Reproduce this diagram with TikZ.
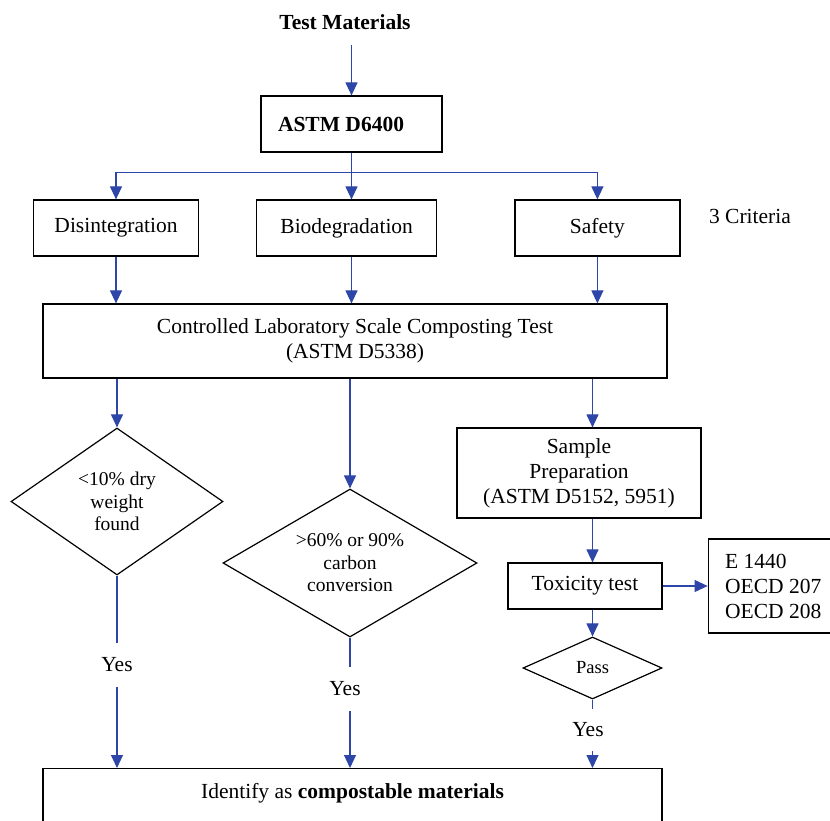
\documentclass[tikz,border=0pt]{standalone}
\usepackage{fontspec}
\setmainfont{Liberation Serif}
\usetikzlibrary{arrows.meta,positioning,shapes.geometric}
\definecolor{flow}{HTML}{2E46A8}

\begin{document}
\begin{tikzpicture}[x=1pt,y=1pt,>={Triangle[length=13pt,width=12pt]},
  box/.style={draw,line width=1.2pt,inner sep=0pt,align=center,font=\fontsize{21.5}{25}\selectfont},
  dia/.style={draw,diamond,aspect=1.7,inner sep=0pt,line width=1.2pt,align=center,font=\fontsize{19.5}{22.5}\selectfont},
  txt/.style={font=\fontsize{21.5}{25}\selectfont},
  yes/.style={txt,inner ysep=15pt},
  link/.style={->,line width=1.1pt,flow}]
\useasboundingbox (0,0) rectangle (830,-820);
\clip (0,0) rectangle (830,-820);
% top
\node[txt,font=\fontsize{21.5}{25}\selectfont\bfseries] (tm) at (345,-22) {Test Materials};
\node[box,minimum width=181,minimum height=56,text width=147,align=flush left,font=\fontsize{21.5}{25}\selectfont\bfseries] (d6400) at (351.5,-124) {ASTM D6400};
% 3 criteria
\node[box,minimum width=165,minimum height=56] (dis) at (116,-228) {Disintegration};
\node[box,minimum width=180,minimum height=56,right=57pt of dis] (bio) {Biodegradation};
\node[box,minimum width=165,minimum height=56,right=77pt of bio] (saf) {Safety};
\node[txt,right=25pt of saf,yshift=12pt] (crit) {3 Criteria};
\node[box,minimum width=624,minimum height=74] (comp) at (355,-341) {Controlled Laboratory Scale Composting Test\\(ASTM D5338)};
% tests
\node[dia,minimum width=212,minimum height=147] (dia1) at (117,-501.5) {<10\% dry\\weight\\found};
\node[dia,minimum width=254,minimum height=148] (dia2) at (350,-563) {>60\% or 90\%\\carbon\\conversion};
\node[box,minimum width=244,minimum height=90] (samp) at (579,-473) {Sample\\Preparation\\(ASTM D5152, 5951)};
\node[box,minimum width=154,minimum height=46] (tox) at (585,-586) {Toxicity test};
\node[box,text width=130,align=flush left,inner xsep=17pt,minimum height=94,right=45pt of tox] (oecd) {E 1440\\OECD 207\\OECD 208};
\node[dia,font=\fontsize{18.5}{22}\selectfont,minimum width=139,minimum height=62] (pass) at (592.5,-668) {Pass};
\node[yes] (yes1) at (117,-665) {Yes};
\node[yes] (yes2) at (345,-689) {Yes};
\node[yes,inner ysep=14pt] (yes3) at (588,-730) {Yes};
\node[box,minimum width=619,minimum height=64,text depth=20pt,anchor=north] (ident) at (352.5,-768) {Identify as \textbf{compostable materials}};
% connectors
\draw[link,shorten <=12pt] (tm.south -| d6400) -- (d6400);
\draw[link] (d6400.south) -- ++(0,-20) -| (dis);
\draw[link] (d6400.south) -- (bio.north -| d6400);
\draw[link] (d6400.south) -- ++(0,-20) -| (saf);
\draw[link] (dis) -- (comp.north -| dis);
\draw[link] (bio.south -| d6400) -- (comp.north -| d6400);
\draw[link] (saf) -- (comp.north -| saf);
\draw[link] (comp.south -| dia1) -- (dia1);
\draw[link] (comp.south -| dia2) -- (dia2);
\draw[link] (comp.south -| pass) -- (samp.north -| pass);
\draw[link] (samp.south -| pass) -- (tox.north -| pass);
\draw[link] (tox.south -| pass) -- (pass);
\draw[link] (tox) -- (oecd);
\draw[line width=1.1pt,flow] (dia1) -- (yes1);
\draw[link] (yes1) -- (ident.north -| yes1);
\draw[line width=1.1pt,flow] (dia2) -- (yes2.north -| dia2);
\draw[link] (yes2.south -| dia2) -- (ident.north -| dia2);
\draw[line width=1.1pt,flow] (pass) -- (yes3.north -| pass);
\draw[link] (yes3.south -| pass) -- (ident.north -| pass);
\end{tikzpicture}
\end{document}
